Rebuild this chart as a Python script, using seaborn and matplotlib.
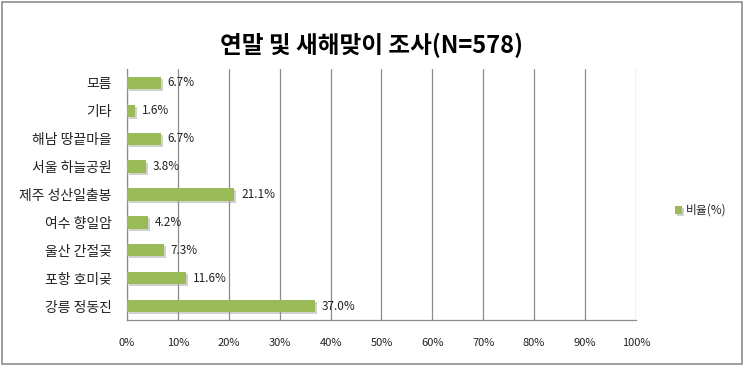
import matplotlib
matplotlib.use("Agg")
import matplotlib.pyplot as plt
import matplotlib.patheffects as pe
import seaborn as sns
import pandas as pd
from matplotlib.patches import Rectangle

# data, top to bottom as shown
places = ['모름', '기타', '해남 땅끝마을', '서울 하늘공원', '제주 성산일출봉',
          '여수 향일암', '울산 간절곶', '포항 호미곶', '강릉 정동진']
ratios = [6.7, 1.6, 6.7, 3.8, 21.1, 4.2, 7.3, 11.6, 37.0]
x_ticks = [0, 10, 20, 30, 40, 50, 60, 70, 80, 90, 100]
title = '연말 및 새해맞이 조사(N=578)'
series_name = '비율(%)'

sns.set_style('white')
plt.rcParams['font.family'] = ['Noto Sans CJK KR', 'DejaVu Sans']

df = pd.DataFrame({'place': places, 'ratio': ratios})

fig = plt.figure(figsize=(7.44, 3.66), dpi=100)
ax = fig.add_axes([0.1707, 0.1257, 0.6841, 0.6858])

bar_color = '#9BBB59'
sns.barplot(data=df, y='place', x='ratio', orient='h', color=bar_color,
            width=0.44, saturation=1, ax=ax, label=series_name, zorder=3)

# bars get a soft drop shadow like the original
shadow = [pe.SimplePatchShadow(offset=(1.5, -1.5), shadow_rgbFace='#9a9a9a', alpha=0.45),
          pe.Normal()]
for p in ax.patches:
    p.set_edgecolor('none')
    p.set_path_effects(shadow)

ax.set_xlim(0, 100)
ax.set_xticks(x_ticks)
ax.set_xticklabels([f'{t}%' for t in x_ticks], fontsize=8, color='#222222')
ax.tick_params(axis='x', length=0, pad=13)
ax.tick_params(axis='y', length=0, pad=11, labelsize=10, labelcolor='#222222')
ax.set_xlabel('')
ax.set_ylabel('')
ax.grid(axis='x', color='#8c8c8c', linewidth=0.9, zorder=0)
ax.grid(axis='y', visible=False)
for side in ['top', 'right']:
    ax.spines[side].set_visible(False)
for side in ['left', 'bottom']:
    ax.spines[side].set_color('#8c8c8c')
    ax.spines[side].set_linewidth(0.9)

for i, v in enumerate(ratios):
    ax.text(v + 1.3, i, f'{v:.1f}%', va='center', ha='left', fontsize=8.5,
            color='#222222', zorder=4)

fig.text(0.5, 0.875, title, ha='center', va='center', fontsize=17,
         fontweight='bold', color='black')

ax.legend(loc='center left', bbox_to_anchor=(0.893, 0.425),
          bbox_transform=fig.transFigure, frameon=False, fontsize=8.5,
          handlelength=0.6, handleheight=0.6, handletextpad=0.3)

fig.patches.append(Rectangle((0.003, 0.005), 0.994, 0.99, transform=fig.transFigure,
                             fill=False, edgecolor='#8c8c8c', linewidth=1.2))

fig.savefig('out.png', dpi=100, facecolor='white')
